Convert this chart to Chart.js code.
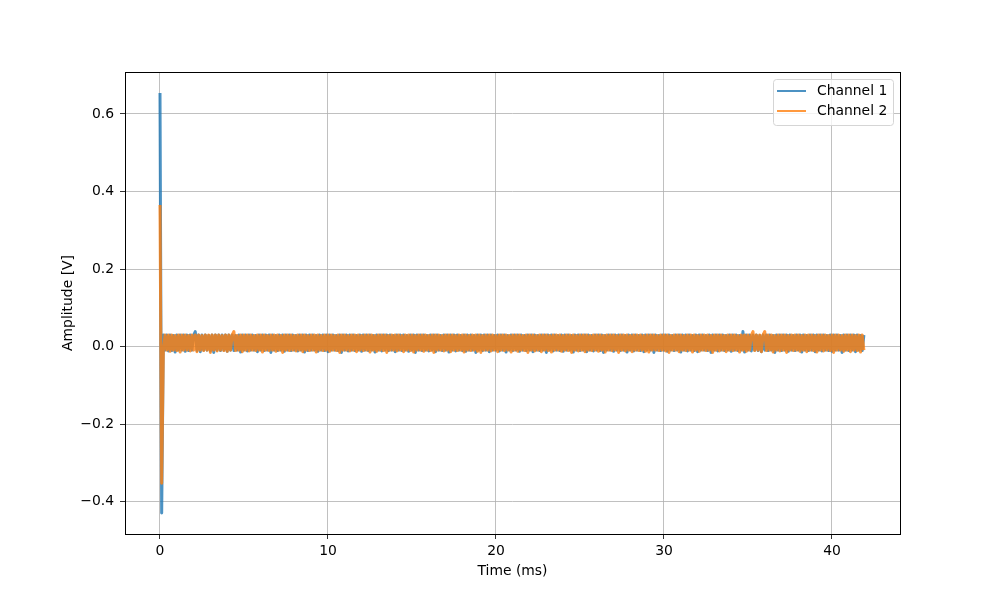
<!DOCTYPE html>
<html>
<head>
<meta charset="utf-8">
<script src="https://cdn.jsdelivr.net/npm/chart.js@4.4.1/dist/chart.umd.min.js"></script>
<style>
  body { margin: 0; background: #fff; }
  canvas { display: block; }
</style>
</head>
<body>
<canvas id="myChart" width="1000" height="600"></canvas>
<script>
// sample spacing of the capture, in ms
const sampleStep = 0.1;

const seriesNames = ["Channel 1", "Channel 2"];

// channel samples in mV, one every sampleStep
const channel1 = [
  654,-429,30,-9,30,-11,30,-10,29,-14,30,-9,30,-9,30,-12,30,-10,30,-9,
  29,39,-10,30,-13,30,-9,30,-9,29,-11,30,-15,30,-9,30,-10,30,-9,30,
  -12,30,-9,30,-10,29,-9,30,-14,30,-9,30,-11,30,-9,30,-9,29,-13,30,
  -9,30,-10,30,-9,30,-15,30,-9,29,-10,30,-9,30,-12,30,-9,30,-10,30,
  -9,29,-11,30,-9,30,-14,30,-10,30,-9,30,-9,29,-12,30,-9,30,-10,30,
  -13,30,-9,30,-9,29,-10,30,-15,30,-9,30,-11,30,-9,30,-10,29,-9,30,
  -12,30,-9,30,-10,30,-9,29,-14,30,-9,30,-11,30,-9,30,-10,30,-9,29,
  -13,30,-9,30,-10,30,-9,29,-12,30,-9,30,-15,30,-9,30,-10,30,-9,29,
  -11,30,-9,30,-13,30,-9,29,-10,30,-9,30,-14,30,-9,30,-11,30,-9,29,
  -10,30,-12,30,-9,30,-9,29,-15,30,-9,30,-10,30,-9,30,-13,30,-9,29,
  -9,30,-11,30,-9,30,-14,29,-9,30,-10,30,-9,30,-12,30,-9,29,-10,30,
  -9,30,-13,30,-9,29,-10,30,-9,30,-15,30,-9,30,-11,30,-9,29,-10,30,
  -12,30,-9,30,-9,29,-14,30,-9,30,-10,30,-9,30,-13,30,-9,29,-11,30,
  -9,30,-10,30,-15,29,-9,30,-9,30,-12,30,-9,30,-10,30,-9,29,-14,30,
  -9,30,-11,30,-9,29,-10,30,-13,30,-9,30,-9,30,-15,30,-9,29,-10,30,
  -9,30,-12,30,-9,29,-10,30,-9,30,-14,30,-9,30,-11,30,-9,29,-10,30,
  -13,30,-9,30,-9,29,-10,30,-15,30,-9,30,-11,30,-9,30,-10,29,-9,30,
  -12,30,-9,30,-10,29,-9,39,-14,30,-9,30,-11,30,-9,30,-10,29,-13,30,
  -9,30,-10,30,-9,29,-15,30,-9,30,-10,30,-9,30,-12,30,-9,29,-10,30,
  -9,30,-14,30,-9,29,-10,30,-9,30,-13,30,-9,30,-11,30,-9,29,-10,30,
  -12,30,-9,30,-9,29,-15,30,-9,30,-10,30,-9,30,-13,30,-9,29,-10,30
];

const channel2 = [
  365,-352,-10,30,-9,30,-12,30,-9,29,-10,30,-14,30,-9,30,-9,29,-11,30,
  -9,30,-13,30,-9,29,-10,30,-9,30,-15,30,-9,30,-11,30,-9,29,-10,30,
  -12,30,-9,30,39,-10,29,-9,30,-13,30,-9,30,-11,30,-9,29,-10,30,-9,
  30,-14,30,-9,29,-10,30,-9,30,-12,30,-9,29,-15,30,-9,30,-10,30,-9,
  29,-11,30,-9,30,-13,30,-9,29,-10,30,-9,30,-14,30,-9,29,-10,30,-9,
  30,-12,30,-9,29,-10,30,-15,30,-9,30,-9,29,-11,30,-9,30,-13,30,-9,
  29,-10,30,-9,30,-14,30,-9,29,-12,30,-9,30,-10,30,-15,29,-9,30,-9,
  30,-11,30,-9,29,-13,30,-9,30,-10,30,-14,29,-9,30,-9,30,-12,30,-9,
  29,-10,30,-15,30,-9,30,-9,29,-11,30,-9,30,-13,30,-9,29,-10,30,-9,
  30,-14,30,-9,29,-10,30,-9,30,-12,30,-15,29,-9,30,-9,30,-11,30,-9,
  29,-13,30,-9,30,-10,30,-9,29,-14,30,-9,30,-12,30,-9,29,-10,30,-15,
  30,-9,30,-11,29,-9,30,-13,30,-9,30,-10,29,-14,30,-9,30,-9,30,-12,
  29,-9,30,-10,30,-15,30,-9,29,-11,30,-9,30,-13,30,-9,29,-10,30,-9,
  30,-12,30,-9,29,-14,30,-9,30,-10,30,-9,29,-15,30,-9,30,-11,30,-9,
  29,-13,30,-9,30,-10,30,-9,29,-12,30,-14,30,-9,30,-9,29,-10,30,-9,
  30,-11,30,-15,29,-9,30,-9,30,-13,30,-9,29,-10,30,-9,30,-14,30,-9,
  29,-12,30,-9,30,-10,30,-9,29,-15,30,-9,30,-11,30,-9,29,-13,30,-9,
  30,-10,30,-9,29,-14,30,-9,30,-12,30,-9,29,39,-10,30,-9,30,-13,30,
  39,-10,30,-9,30,-14,29,-9,30,-11,30,-9,30,-15,29,-9,30,-10,30,-9,
  30,-12,29,-9,30,-13,30,-9,30,-10,29,-14,30,-9,30,-11,30,-9,29,-10,
  30,-15,30,-9,30,-9,29,-12,30,-9,30,-13,30,-9,29,-10,30,-14,30,-9
];

const xTicks = [0, 10, 20, 30, 40];
const yTicks = [-0.4, -0.2, 0.0, 0.2, 0.4, 0.6];

const lineColors = ["rgba(31,119,180,0.8)", "rgba(255,127,14,0.8)"];
const fontFamily = "'DejaVu Sans', sans-serif";

function toPoints(samples) {
  return samples.map((mv, i) => ({ x: i * sampleStep, y: mv / 1000 }));
}

function minusSign(v) {
  return v.toFixed(1).replace("-", "\u2212");
}

// matplotlib style frame, x tick labels, axis labels and legend
const mplDecor = {
  id: "mplDecor",
  afterDatasetsDraw(chart) {
    const ctx = chart.ctx;
    const a = chart.chartArea;
    ctx.save();
    ctx.strokeStyle = "#000";
    ctx.lineWidth = 1;
    ctx.strokeRect(Math.round(a.left) + 0.5, Math.round(a.top) + 0.5,
      Math.round(a.right - a.left), Math.round(a.bottom - a.top));

    ctx.fillStyle = "#000";
    ctx.font = "13.9px " + fontFamily;
    ctx.textAlign = "center";
    ctx.textBaseline = "middle";
    const xScale = chart.scales.x;
    xTicks.forEach(v => {
      ctx.fillText(String(v), xScale.getPixelForValue(v), 551);
    });
    ctx.fillText("Time (ms)", (a.left + a.right) / 2, 571);
    ctx.save();
    ctx.translate(68, (a.top + a.bottom) / 2);
    ctx.rotate(-Math.PI / 2);
    ctx.fillText("Amplitude [V]", 0, 0);
    ctx.restore();

    // legend box
    const bx = 773, by = 79, bw = 120, bh = 46;
    ctx.beginPath();
    ctx.roundRect(bx + 0.5, by + 0.5, bw, bh, 3);
    ctx.fillStyle = "rgba(255,255,255,0.8)";
    ctx.fill();
    ctx.strokeStyle = "#d5d5d5";
    ctx.stroke();
    chart.data.datasets.forEach((ds, i) => {
      const y = 91 + i * 20;
      ctx.strokeStyle = ds.borderColor;
      ctx.lineWidth = 2;
      ctx.beginPath();
      ctx.moveTo(777, y);
      ctx.lineTo(806, y);
      ctx.stroke();
      ctx.fillStyle = "#000";
      ctx.textAlign = "left";
      ctx.fillText(ds.label, 817, y);
    });
    ctx.restore();
  }
};

const ctx = document.getElementById("myChart");

// higher order is drawn first, so channel 2 sits on top like in the capture
const myChart = new Chart(ctx, {
  type: "line",
  data: {
    datasets: [
      { label: seriesNames[0], data: toPoints(channel1), borderColor: lineColors[0], order: 2 },
      { label: seriesNames[1], data: toPoints(channel2), borderColor: lineColors[1], order: 1 }
    ]
  },
  options: {
    responsive: false,
    animation: false,
    layout: { padding: { top: 72, right: 100, left: 0, bottom: 0 } },
    elements: {
      line: { borderWidth: 3, tension: 0, fill: false, borderJoinStyle: "round", borderCapStyle: "butt" },
      point: { radius: 0 }
    },
    plugins: {
      legend: { display: false },
      tooltip: { enabled: false }
    },
    scales: {
      x: {
        type: "linear",
        min: -2.083,
        max: 44.05,
        afterFit: (scale) => { scale.height = 66; },
        afterBuildTicks: (scale) => { scale.ticks = xTicks.map(v => ({ value: v })); },
        grid: { color: "#b0b0b0", lineWidth: 0.8, tickColor: "#000", tickLength: 5 },
        border: { display: false },
        ticks: { display: false }
      },
      y: {
        type: "linear",
        min: -0.483,
        max: 0.708,
        afterFit: (scale) => { scale.width = 125; },
        afterBuildTicks: (scale) => { scale.ticks = yTicks.map(v => ({ value: v })); },
        grid: { color: "#b0b0b0", lineWidth: 0.8, tickColor: "#000", tickLength: 5 },
        border: { display: false },
        ticks: {
          color: "#000",
          padding: 6,
          font: { family: fontFamily, size: 13.9 },
          callback: (v) => minusSign(v)
        }
      }
    }
  },
  plugins: [mplDecor]
});
</script>
</body>
</html>
